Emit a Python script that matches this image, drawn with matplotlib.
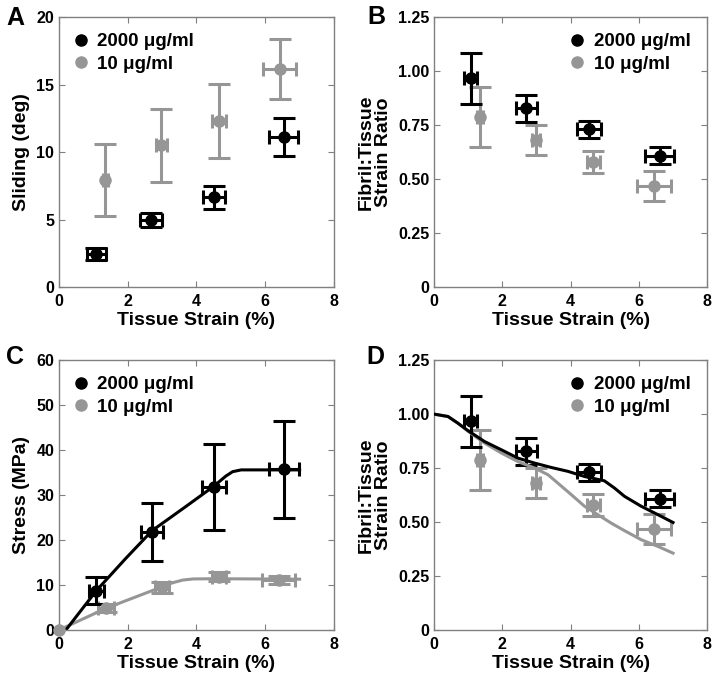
import matplotlib
matplotlib.use('Agg')
import matplotlib.pyplot as plt
from matplotlib.lines import Line2D

plt.rcParams['font.family'] = ['Liberation Sans', 'DejaVu Sans']
plt.rcParams['font.weight'] = 'bold'
plt.rcParams['axes.labelweight'] = 'bold'

BLACK = '#000000'
GRAY = '#969696'
labels = ['2000 \u03bcg/ml', '10 \u03bcg/ml']

# ---------------- Panel A: Sliding ----------------
a_hi_x = [1.08, 2.68, 4.51, 6.54]
a_hi_xerr = [0.28, 0.32, 0.33, 0.42]
a_hi_y = [2.45, 4.96, 6.64, 11.1]
a_hi_yerr = [0.47, 0.54, 0.84, 1.4]
a_lo_x = [1.35, 2.98, 4.65, 6.42]
a_lo_xerr = [0.08, 0.15, 0.2, 0.48]
a_lo_y = [7.93, 10.5, 12.3, 16.17]
a_lo_yerr = [2.65, 2.7, 2.75, 2.2]

# ---------------- Panel B / D: Fibril:Tissue strain ratio ----------------
b_hi_x = [1.07, 2.70, 4.53, 6.61]
b_hi_xerr = [0.18, 0.31, 0.35, 0.42]
b_hi_y = [0.966, 0.827, 0.73, 0.608]
b_hi_yerr = [0.12, 0.062, 0.04, 0.04]
b_lo_x = [1.35, 2.98, 4.67, 6.45]
b_lo_xerr = [0.08, 0.12, 0.2, 0.5]
b_lo_y = [0.788, 0.68, 0.58, 0.468]
b_lo_yerr = [0.14, 0.07, 0.05, 0.07]

# ---------------- Panel C: Stress ----------------
c_origin_x = [0]
c_origin_y = [0]
c_hi_x = [1.085, 2.71, 4.51, 6.55]
c_hi_xerr = [0.22, 0.33, 0.34, 0.43]
c_hi_y = [8.74, 21.85, 31.85, 35.7]
c_hi_yerr = [3.0, 6.4, 9.6, 10.8]
c_lo_x = [1.36, 3.0, 4.65, 6.4]
c_lo_xerr = [0.24, 0.2, 0.2, 0.48]
c_lo_y = [4.81, 9.48, 11.85, 11.1]
c_lo_yerr = [0.9, 1.2, 1.0, 0.8]

# model curves
c_hi_curve_x = [0.2, 1.085, 1.94, 2.71, 3.68, 4.51, 4.85, 5.05, 5.3, 7.0]
c_hi_curve_y = [0.0, 8.74, 15.9, 22.1, 27.4, 32.0, 34.2, 35.2, 35.6, 35.6]
c_lo_curve_x = [0.0, 1.36, 3.0, 3.3, 3.6, 3.9, 4.46, 7.0]
c_lo_curve_y = [0.0, 4.8, 9.6, 10.5, 11.1, 11.35, 11.4, 11.3]

d_hi_curve_x = [0.0, 0.41, 0.70, 1.0, 1.48, 1.97, 2.46, 2.95, 3.43, 3.92, 4.41, 4.99, 5.29, 5.58, 6.07, 6.56, 7.0]
d_hi_curve_y = [1.0, 0.989, 0.958, 0.923, 0.873, 0.835, 0.796, 0.773, 0.753, 0.735, 0.711, 0.691, 0.657, 0.619, 0.573, 0.534, 0.498]
d_lo_curve_x = [0.0, 0.41, 0.70, 1.0, 1.48, 1.97, 2.46, 2.95, 3.34, 3.63, 4.02, 4.41, 4.80, 5.19, 5.58, 6.07, 6.56, 7.0]
d_lo_curve_y = [1.0, 0.989, 0.958, 0.92, 0.866, 0.82, 0.78, 0.75, 0.719, 0.68, 0.627, 0.573, 0.534, 0.495, 0.46, 0.418, 0.387, 0.356]

x_ticks = [0, 2, 4, 6, 8]

W, H = 717, 678
fig = plt.figure(figsize=(W / 100, H / 100), dpi=100)
axA = fig.add_axes([0.0823, 0.5767, 0.3835, 0.398])
axB = fig.add_axes([0.6053, 0.5767, 0.381, 0.398])
axC = fig.add_axes([0.0823, 0.0708, 0.3835, 0.398])
axD = fig.add_axes([0.6053, 0.0708, 0.381, 0.398])

LW = 2.2
MS = 8


def pts(ax, x, xerr, y, yerr, color):
    ax.errorbar(x, y, yerr=yerr, fmt='none', ecolor=color, elinewidth=LW,
                capsize=7.6, capthick=LW, zorder=3)
    ax.errorbar(x, y, xerr=xerr, fmt='none', ecolor=color, elinewidth=LW,
                capsize=5.2, capthick=LW, zorder=3)
    ax.plot(x, y, 'o', color=color, ms=MS, zorder=4)


def style(ax, ylim, yticks, yticklabels, ylabel, letter, letter_xy, legloc):
    ax.set_xlim(0, 8)
    ax.set_ylim(*ylim)
    ax.set_xticks(x_ticks)
    ax.set_yticks(yticks)
    ax.set_yticklabels(yticklabels)
    ax.tick_params(direction='in', top=True, right=True, length=4,
                   color='#808080', labelsize=11.5)
    ax.tick_params(axis='x', pad=5)
    ax.tick_params(axis='y', pad=3.5)
    for lab in ax.get_xticklabels() + ax.get_yticklabels():
        lab.set_fontweight('bold')
    for s in ax.spines.values():
        s.set_color('#808080')
        s.set_linewidth(1.0)
    ax.set_xlabel('Tissue Strain (%)', fontsize=14, fontweight='bold', labelpad=2.5)
    ax.set_ylabel(ylabel, fontsize=14, fontweight='bold', labelpad=4.5,
                  linespacing=1.0)
    handles = [Line2D([], [], ls='none', marker='o', color=BLACK, ms=MS),
               Line2D([], [], ls='none', marker='o', color=GRAY, ms=MS)]
    ax.legend(handles, labels, loc=legloc, frameon=False,
              handlelength=0.6, handletextpad=0.6, labelspacing=0.3,
              borderaxespad=0.55, borderpad=0.3,
              prop={'weight': 'bold', 'size': 13.5})
    fig.text(letter_xy[0] / W, 1 - letter_xy[1] / H, letter, fontsize=18,
             fontweight='bold', ha='center', va='center')


# A
pts(axA, a_lo_x, a_lo_xerr, a_lo_y, a_lo_yerr, GRAY)
pts(axA, a_hi_x, a_hi_xerr, a_hi_y, a_hi_yerr, BLACK)
style(axA, (0, 20), [0, 5, 10, 15, 20], ['0', '5', '10', '15', '20'],
      'Sliding (deg)', 'A', (15, 18), 'upper left')

ratio_ticks = [0, 0.25, 0.5, 0.75, 1.0, 1.25]
ratio_labels = ['0', '0.25', '0.50', '0.75', '1.00', '1.25']

# B
pts(axB, b_lo_x, b_lo_xerr, b_lo_y, b_lo_yerr, GRAY)
pts(axB, b_hi_x, b_hi_xerr, b_hi_y, b_hi_yerr, BLACK)
style(axB, (0, 1.25), ratio_ticks, ratio_labels,
      'Fibril:Tissue\nStrain Ratio', 'B', (376, 17.5), 'upper right')

# C
axC.plot(c_lo_curve_x, c_lo_curve_y, color=GRAY, lw=LW, zorder=2)
axC.plot(c_hi_curve_x, c_hi_curve_y, color=BLACK, lw=LW, zorder=2)
pts(axC, c_lo_x, c_lo_xerr, c_lo_y, c_lo_yerr, GRAY)
pts(axC, c_hi_x, c_hi_xerr, c_hi_y, c_hi_yerr, BLACK)
axC.plot(c_origin_x, c_origin_y, 'o', color=GRAY, ms=MS, zorder=5, clip_on=False)
style(axC, (0, 60), [0, 10, 20, 30, 40, 50, 60],
      ['0', '10', '20', '30', '40', '50', '60'],
      'Stress (MPa)', 'C', (15, 357), 'upper left')

# D
pts(axD, b_lo_x, b_lo_xerr, b_lo_y, b_lo_yerr, GRAY)
pts(axD, b_hi_x, b_hi_xerr, b_hi_y, b_hi_yerr, BLACK)
axD.plot(d_lo_curve_x, d_lo_curve_y, color=GRAY, lw=LW, zorder=5)
axD.plot(d_hi_curve_x, d_hi_curve_y, color=BLACK, lw=LW, zorder=5)
style(axD, (0, 1.25), ratio_ticks, ratio_labels,
      'Fibril:Tissue\nStrain Ratio', 'D', (375, 357), 'upper right')

fig.savefig('out.png', dpi=100)
